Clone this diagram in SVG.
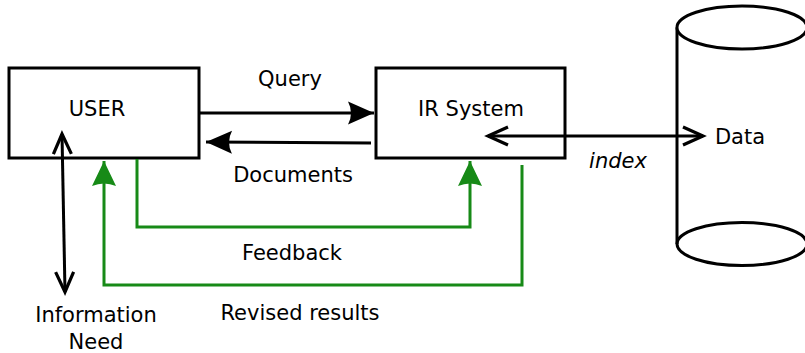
<svg xmlns="http://www.w3.org/2000/svg" width="805" height="353" viewBox="0 0 805 353">
<style>
.box{fill:#fff;stroke:#000;stroke-width:3}
.ln{fill:none;stroke:#000;stroke-width:3}
.gl{fill:none;stroke:#178a17;stroke-width:3}
text{font-family:"DejaVu Sans",sans-serif;font-size:21px;fill:#000;text-anchor:middle}
</style>
<defs>
<marker id="fill" markerUnits="userSpaceOnUse" markerWidth="30" markerHeight="30" viewBox="-27 -14 30 28" refX="0" refY="0" orient="auto">
<path d="M0,0 L-26,-11.5 Q-20,0 -26,11.5 Z" fill="#000"/>
</marker>
<marker id="gfill" markerUnits="userSpaceOnUse" markerWidth="30" markerHeight="30" viewBox="-27 -14 30 28" refX="0" refY="0" orient="auto">
<path d="M0,0 L-25,-12 Q-20,0 -25,12 Z" fill="#178a17"/>
</marker>
<marker id="open" markerUnits="userSpaceOnUse" markerWidth="30" markerHeight="30" viewBox="-25 -14 30 28" refX="0" refY="0" orient="auto">
<path d="M-20,-9 L0,0 L-20,9" fill="none" stroke="#000" stroke-width="3.2"/>
</marker>
<marker id="openS" markerUnits="userSpaceOnUse" markerWidth="30" markerHeight="30" viewBox="-5 -14 30 28" refX="0" refY="0" orient="auto">
<path d="M20,-9 L0,0 L20,9" fill="none" stroke="#000" stroke-width="3.2"/>
</marker>
</defs>
<g id="user">
<rect class="box" x="9" y="68" width="190" height="90"/>
<text x="97" y="116">USER</text>
</g>
<g id="ir">
<rect class="box" x="376" y="68" width="189" height="90"/>
<text x="471" y="116">IR System</text>
</g>
<g id="data">
<path class="ln" d="M677,27.5 L677,244"/>
<ellipse class="box" cx="742" cy="27.5" rx="65" ry="21.5"/>
<path class="ln" d="M677,244 A65,21.5 0 0 0 807,244 A65,21.5 0 0 0 677,244"/>
<text x="740" y="144">Data</text>
</g>
<g id="infoneed">
<text x="96" y="322">Information</text>
<text x="96" y="349">Need</text>
</g>
<g id="connectors">
<path class="ln" d="M199,113 L374,113" marker-end="url(#fill)"/>
<path class="ln" d="M371,143 L206,142" marker-end="url(#fill)"/>
<path class="ln" d="M488,136 L703,136" marker-start="url(#openS)" marker-end="url(#open)"/>
<path class="ln" d="M62,134 L65,292" marker-start="url(#openS)" marker-end="url(#open)"/>
<path class="gl" d="M137,159 L137,227 L470,227 L470,161" marker-end="url(#gfill)"/>
<path class="gl" d="M522,165 L522,285 L104,285 L104,161" marker-end="url(#gfill)"/>
<text x="290" y="86">Query</text>
<text x="293" y="182">Documents</text>
<text x="618" y="168" font-style="italic">index</text>
<text x="292" y="260">Feedback</text>
<text x="300" y="320">Revised results</text>
</g>
</svg>
